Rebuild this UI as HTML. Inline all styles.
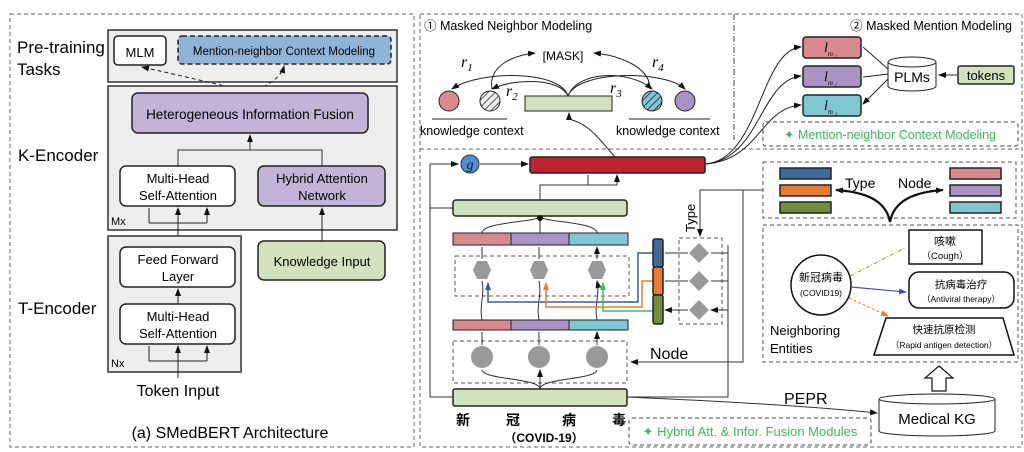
<!DOCTYPE html>
<html><head><meta charset="utf-8"><style>
html,body{margin:0;padding:0;background:#fff;}
svg{display:block;font-family:"Liberation Sans","Noto Sans CJK SC",sans-serif;}
</style></head><body>
<svg width="1024" height="452" viewBox="0 0 1024 452" xmlns="http://www.w3.org/2000/svg">
<defs>
<marker id="a" markerWidth="8" markerHeight="8" refX="7" refY="4" orient="auto" markerUnits="userSpaceOnUse"><path d="M0,1 L8,4 L0,7 z" fill="#111"/></marker>
<marker id="ab" markerWidth="8" markerHeight="8" refX="7" refY="4" orient="auto" markerUnits="userSpaceOnUse"><path d="M0,1 L8,4 L0,7 z" fill="#3a5a9a"/></marker>
<marker id="ao" markerWidth="8" markerHeight="8" refX="7" refY="4" orient="auto" markerUnits="userSpaceOnUse"><path d="M0,1 L8,4 L0,7 z" fill="#f07a30"/></marker>
<marker id="ag" markerWidth="8" markerHeight="8" refX="7" refY="4" orient="auto" markerUnits="userSpaceOnUse"><path d="M0,1 L8,4 L0,7 z" fill="#3cc060"/></marker>
<pattern id="h" width="5" height="5" patternUnits="userSpaceOnUse" patternTransform="rotate(45)"><rect width="5" height="5" fill="#eee"/><line x1="0" y1="0" x2="0" y2="5" stroke="#333" stroke-width="1.6"/></pattern>
<pattern id="ht" width="5" height="5" patternUnits="userSpaceOnUse" patternTransform="rotate(45)"><rect width="5" height="5" fill="#7fc7d3"/><line x1="0" y1="0" x2="0" y2="5" stroke="#223" stroke-width="1.6"/></pattern>
</defs>

<!-- LEFT PANEL -->
<rect x="10" y="14" width="404" height="433" fill="none" stroke="#666" stroke-dasharray="4,3"/>
<rect x="108" y="30" width="289" height="52" fill="#eee" stroke="#333" stroke-width="1.5"/>
<rect x="114" y="36" width="52" height="29" rx="4" fill="#fff" stroke="#222" stroke-width="1.5"/>
<text x="140" y="57" font-size="13" text-anchor="middle">MLM</text>
<rect x="178" y="36" width="213" height="28" rx="4" fill="#8fb4d8" stroke="#222" stroke-width="1.5" stroke-dasharray="5,3"/>
<text x="284" y="55" font-size="11.5" text-anchor="middle">Mention-neighbor Context Modeling</text>
<path d="M250,92 Q200,80 142,67" fill="none" stroke="#222" stroke-dasharray="4,3" marker-end="url(#a)"/>
<path d="M250,92 Q280,82 284,66" fill="none" stroke="#222" stroke-dasharray="4,3" marker-end="url(#a)"/>
<text x="17" y="53" font-size="17">Pre-training</text>
<text x="17" y="75" font-size="17">Tasks</text>
<rect x="108" y="86" width="289" height="144" fill="#eee" stroke="#333" stroke-width="1.5"/>
<rect x="132" y="93" width="236" height="40" rx="6" fill="#c2b4d6" stroke="#222" stroke-width="1.5"/>
<text x="250" y="119" font-size="13.5" text-anchor="middle">Heterogeneous Information Fusion</text>
<path d="M178,166 V150 H322 V166 M250,150 V135" fill="none" stroke="#333" marker-end="url(#a)"/>
<rect x="120" y="166" width="115" height="40" rx="6" fill="#fff" stroke="#222" stroke-width="1.5"/>
<text x="178" y="183" font-size="13" text-anchor="middle">Multi-Head</text>
<text x="178" y="200" font-size="13" text-anchor="middle">Self-Attention</text>
<rect x="258" y="166" width="127" height="40" rx="6" fill="#c2b4d6" stroke="#222" stroke-width="1.5"/>
<text x="322" y="183" font-size="13" text-anchor="middle">Hybrid Attention</text>
<text x="322" y="200" font-size="13" text-anchor="middle">Network</text>
<text x="111" y="225" font-size="11">Mx</text>
<text x="18" y="161" font-size="17">K-Encoder</text>
<path d="M178,236 V208" stroke="#222" marker-end="url(#a)"/>
<path d="M149,223 H207 M149,223 V208 M207,223 V208" fill="none" stroke="#222"/>
<path d="M149,214 V208 M207,214 V208" stroke="#222" marker-end="url(#a)"/>
<path d="M322,241 V208" stroke="#222" marker-end="url(#a)"/>
<rect x="108" y="236" width="133" height="136" fill="#eee" stroke="#333" stroke-width="1.5"/>
<rect x="120" y="247" width="115" height="40" rx="6" fill="#fff" stroke="#222" stroke-width="1.5"/>
<text x="178" y="264" font-size="13" text-anchor="middle">Feed Forward</text>
<text x="178" y="281" font-size="13" text-anchor="middle">Layer</text>
<path d="M178,304 V289" stroke="#222" marker-end="url(#a)"/>
<rect x="120" y="304" width="115" height="40" rx="6" fill="#fff" stroke="#222" stroke-width="1.5"/>
<text x="178" y="321" font-size="13" text-anchor="middle">Multi-Head</text>
<text x="178" y="338" font-size="13" text-anchor="middle">Self-Attention</text>
<path d="M178,378 V346" stroke="#222" marker-end="url(#a)"/>
<path d="M149,361 H207 M149,361 V346 M207,361 V346" fill="none" stroke="#222"/>
<path d="M149,352 V346 M207,352 V346" stroke="#222" marker-end="url(#a)"/>
<text x="111" y="367" font-size="11">Nx</text>
<rect x="258" y="241" width="127" height="39" rx="6" fill="#d3e2bd" stroke="#222" stroke-width="1.5"/>
<text x="322" y="266" font-size="13" text-anchor="middle">Knowledge Input</text>
<text x="18" y="314" font-size="17">T-Encoder</text>
<text x="178" y="396" font-size="16" text-anchor="middle">Token Input</text>
<text x="230" y="438" font-size="16" text-anchor="middle">(a) SMedBERT Architecture</text>

<!-- RIGHT PANEL -->
<rect x="420" y="14" width="602" height="433" fill="none" stroke="#666" stroke-dasharray="4,3"/>
<line x1="420" y1="149" x2="1022" y2="149" stroke="#666" stroke-dasharray="4,3"/>
<line x1="734" y1="14" x2="734" y2="140" stroke="#444" stroke-dasharray="6,2,1,2"/>
<text x="424" y="30" font-size="12.5">① Masked Neighbor Modeling</text>
<text x="1012" y="30" font-size="12.5" text-anchor="end">② Masked Mention Modeling</text>
<text x="563" y="60" font-size="12" text-anchor="middle">[MASK]</text>
<path d="M568,96 C560,70 480,70 452,89" fill="none" stroke="#222" marker-end="url(#a)"/>
<path d="M568,96 C560,78 515,78 492,89" fill="none" stroke="#222" marker-end="url(#a)"/>
<path d="M568,96 C578,70 630,70 652,89" fill="none" stroke="#222" marker-end="url(#a)"/>
<path d="M568,96 C578,70 665,70 685,89" fill="none" stroke="#222" marker-end="url(#a)"/>
<path d="M492,89 C488,65 515,55 535,53" fill="none" stroke="#222" marker-end="url(#a)"/>
<path d="M650,89 C650,65 615,55 594,53" fill="none" stroke="#222" marker-end="url(#a)"/>
<text x="461" y="67" font-size="16" font-family="Liberation Serif" font-style="italic">r<tspan font-size="11" dy="4">1</tspan></text>
<text x="506" y="96" font-size="16" font-family="Liberation Serif" font-style="italic">r<tspan font-size="11" dy="4">2</tspan></text>
<text x="610" y="93" font-size="16" font-family="Liberation Serif" font-style="italic">r<tspan font-size="11" dy="4">3</tspan></text>
<text x="652" y="67" font-size="16" font-family="Liberation Serif" font-style="italic">r<tspan font-size="11" dy="4">4</tspan></text>
<circle cx="449" cy="101" r="10" fill="#d98a8f" stroke="#222"/>
<circle cx="490" cy="101" r="10" fill="url(#h)" stroke="#222"/>
<circle cx="652" cy="101" r="10" fill="url(#ht)" stroke="#222"/>
<circle cx="685" cy="101" r="10" fill="#a993c4" stroke="#222"/>
<rect x="525" y="96" width="87" height="15" fill="#d3e2bd" stroke="#222"/>
<line x1="432" y1="119" x2="507" y2="119" stroke="#222"/>
<line x1="629" y1="119" x2="710" y2="119" stroke="#222"/>
<text x="420" y="135" font-size="12.5">knowledge context</text>
<text x="616" y="135" font-size="12.5">knowledge context</text>
<path d="M615,157 C600,140 590,125 572,120 C569,118 569,116 569,113" fill="none" stroke="#222" marker-end="url(#a)"/>

<rect x="803" y="37" width="58" height="21" rx="3" fill="#d98a8f" stroke="#222" stroke-width="1.5"/>
<rect x="803" y="66" width="58" height="21" rx="3" fill="#a993c4" stroke="#222" stroke-width="1.5"/>
<rect x="803" y="95" width="58" height="21" rx="3" fill="#7fc7d3" stroke="#222" stroke-width="1.5"/>
<text x="824" y="52" font-size="14" font-family="Liberation Serif" font-style="italic">l<tspan font-size="7" dy="4">m ₁</tspan></text>
<text x="824" y="81" font-size="14" font-family="Liberation Serif" font-style="italic">l<tspan font-size="7" dy="4">m ₂</tspan></text>
<text x="824" y="110" font-size="14" font-family="Liberation Serif" font-style="italic">l<tspan font-size="7" dy="4">m ₃</tspan></text>
<path d="M705,164 C760,160 760,50 801,47" fill="none" stroke="#222" marker-end="url(#a)"/>
<path d="M705,164 C760,160 760,80 801,76" fill="none" stroke="#222" marker-end="url(#a)"/>
<path d="M705,164 C760,160 760,108 801,105" fill="none" stroke="#222" marker-end="url(#a)"/>
<path d="M889,70 L863,47 M889,74 L863,77 M889,78 L863,104" stroke="#222" marker-end="url(#a)"/>
<path d="M888,62 V86 A24,5 0 0 0 936,86 V62" fill="#fff" stroke="#222"/>
<ellipse cx="912" cy="62" rx="24" ry="5" fill="#fff" stroke="#222"/>
<text x="912" y="82" font-size="14" text-anchor="middle">PLMs</text>
<path d="M957,75 L939,75" stroke="#222" marker-end="url(#a)"/>
<rect x="958" y="66" width="56" height="18" rx="2" fill="#d3e2bd" stroke="#222" stroke-width="1.5"/>
<text x="986" y="80" font-size="13" text-anchor="middle">tokens</text>
<rect x="763" y="122" width="255" height="24" rx="3" fill="none" stroke="#444" stroke-dasharray="4,3"/>
<text x="890" y="139" font-size="12.5" fill="#3cba5a" text-anchor="middle">✦ Mention-neighbor Context Modeling</text>

<!-- bottom left network -->
<path d="M453,397 H430 V164 H458" fill="none" stroke="#333" marker-end="url(#a)"/>
<path d="M430,208 H453" stroke="#333"/>
<circle cx="470" cy="164" r="9" fill="#4f8fd6" stroke="#333"/>
<text x="470" y="169" font-size="14" font-family="Liberation Serif" font-style="italic" text-anchor="middle" fill="#111">g</text>
<path d="M480,164 H528" stroke="#333" marker-end="url(#a)"/>
<rect x="530" y="157" width="175" height="16" rx="2" fill="#bd2430" stroke="#222" stroke-width="1.5"/>
<path d="M540,200 V185 H617 V175 M588,185 V175" fill="none" stroke="#333"/>
<path d="M588,180 V175 M617,180 V175" stroke="#333" marker-end="url(#a)"/>
<rect x="453" y="200" width="174" height="16" rx="3" fill="#d3e2bd" stroke="#222" stroke-width="1.5"/>
<path d="M482,233 C482,222 536,222 540,217 M597,233 C597,222 544,222 540,217 M540,233 V218" fill="none" stroke="#333"/>
<circle cx="540" cy="218" r="3" fill="#111"/>
<rect x="453" y="233" width="58" height="12" fill="#d98a8f" stroke="#222"/>
<rect x="511" y="233" width="58" height="12" fill="#a993c4" stroke="#222"/>
<rect x="569" y="233" width="59" height="12" fill="#7fc7d3" stroke="#222"/>
<rect x="455" y="256" width="174" height="40" fill="none" stroke="#555" stroke-dasharray="4,3"/>
<g fill="#999">
<polygon points="473,270 477,261 487,261 491,270 487,279 477,279"/>
<polygon points="530,270 534,261 544,261 548,270 544,279 534,279"/>
<polygon points="588,270 592,261 602,261 606,270 602,279 592,279"/>
</g>
<path d="M482,259 V247 M539,259 V247 M597,259 V247" stroke="#333" marker-end="url(#a)"/>
<path d="M482,320 C479,305 485,295 482,281 M539,320 C536,305 542,295 539,281 M597,320 C594,305 600,295 597,281" fill="none" stroke="#333" marker-end="url(#a)"/>
<path d="M653,253 H638 V302 H488 V283" fill="none" stroke="#3a5a9a" stroke-width="1.5" marker-end="url(#ab)"/>
<path d="M653,281 H642 V307 H546 V283" fill="none" stroke="#f07a30" stroke-width="1.5" marker-end="url(#ao)"/>
<path d="M653,311 H603 V283" fill="none" stroke="#3cc060" stroke-width="1.5" marker-end="url(#ag)"/>
<rect x="653" y="239" width="10" height="28" rx="2" fill="#3d6b9e" stroke="#222" stroke-width="1.5"/>
<rect x="653" y="267" width="10" height="28" rx="2" fill="#ea7a2e" stroke="#222" stroke-width="1.5"/>
<rect x="653" y="295" width="10" height="29" rx="2" fill="#6f8e3e" stroke="#222" stroke-width="1.5"/>
<rect x="679" y="238" width="43" height="86" fill="none" stroke="#555" stroke-dasharray="4,3"/>
<g fill="#999">
<polygon points="699,243 709,253 699,263 689,253"/>
<polygon points="699,271 709,281 699,291 689,281"/>
<polygon points="699,300 709,310 699,320 689,310"/>
</g>
<path d="M688,253 H665 M688,281 H665 M688,310 H665" stroke="#333" marker-end="url(#a)"/>
<path d="M728,253 H711 M728,281 H711 M728,310 H711" stroke="#333" marker-end="url(#a)"/>
<path d="M728,245 V397 H627" fill="none" stroke="#333"/>
<path d="M763,190 H700 V236" fill="none" stroke="#333" marker-end="url(#a)"/>
<path d="M743,190 V362 H631" fill="none" stroke="#333" marker-end="url(#a)"/>
<text transform="translate(695,232) rotate(-90)" font-size="13">Type</text>
<rect x="453" y="320" width="58" height="10" fill="#d98a8f" stroke="#222"/>
<rect x="511" y="320" width="58" height="10" fill="#a993c4" stroke="#222"/>
<rect x="569" y="320" width="59" height="10" fill="#7fc7d3" stroke="#222"/>
<rect x="453" y="341" width="174" height="42" fill="none" stroke="#555" stroke-dasharray="4,3"/>
<circle cx="482" cy="357" r="11" fill="#999"/>
<circle cx="539" cy="357" r="11" fill="#999"/>
<circle cx="597" cy="357" r="11" fill="#999"/>
<path d="M482,345 V332 M539,345 V332 M597,345 V332" stroke="#333" marker-end="url(#a)"/>
<path d="M540,389 C540,378 484,380 482,370 M540,389 C540,378 595,380 597,370 M540,389 V370" fill="none" stroke="#333" marker-end="url(#a)"/>
<text x="650" y="359" font-size="16">Node</text>
<rect x="453" y="389" width="174" height="17" rx="2" fill="#d3e2bd" stroke="#222" stroke-width="1.5"/>
<g font-size="14" font-weight="bold" font-family="'Noto Sans CJK SC',sans-serif">
<text x="456" y="425">新</text><text x="506" y="425">冠</text><text x="562" y="425">病</text><text x="612" y="425">毒</text>
</g>
<text x="544" y="442" font-size="12" font-weight="bold" text-anchor="middle" font-family="'Liberation Sans','Noto Sans CJK SC',sans-serif">（COVID-19）</text>
<path d="M627,397 C740,402 830,408 877,413" fill="none" stroke="#333" marker-end="url(#a)"/>
<text x="784" y="404" font-size="16">PEPR</text>
<rect x="629" y="418" width="242" height="27" rx="3" fill="none" stroke="#444" stroke-dasharray="4,3"/>
<text x="750" y="436" font-size="13" fill="#3cba5a" text-anchor="middle">✦ Hybrid Att. &amp; Infor. Fusion Modules</text>

<!-- bottom right -->
<rect x="763" y="162" width="253" height="56" fill="none" stroke="#555" stroke-dasharray="4,3"/>
<rect x="780" y="168" width="51" height="11" fill="#3d6b9e" stroke="#222" stroke-width="1.5"/>
<rect x="780" y="185" width="51" height="11" fill="#ea7a2e" stroke="#222" stroke-width="1.5"/>
<rect x="780" y="202" width="51" height="11" fill="#6f8e3e" stroke="#222" stroke-width="1.5"/>
<rect x="950" y="168" width="51" height="11" fill="#d98a8f" stroke="#222" stroke-width="1.5"/>
<rect x="950" y="185" width="51" height="11" fill="#a993c4" stroke="#222" stroke-width="1.5"/>
<rect x="950" y="202" width="51" height="11" fill="#7fc7d3" stroke="#222" stroke-width="1.5"/>
<text x="845" y="188" font-size="14">Type</text>
<text x="898" y="188" font-size="14">Node</text>
<path d="M890,222 C886,200 865,192 836,190" fill="none" stroke="#111" stroke-width="2.2" marker-end="url(#a)"/>
<path d="M890,222 C894,200 915,192 943,190" fill="none" stroke="#111" stroke-width="2.2" marker-end="url(#a)"/>
<rect x="763" y="225" width="255" height="137" fill="none" stroke="#555" stroke-dasharray="4,3"/>
<circle cx="821" cy="285" r="30" fill="#fff" stroke="#111" stroke-width="1.5"/>
<text x="821" y="281" font-size="11" text-anchor="middle" font-family="'Noto Sans CJK SC',sans-serif">新冠病毒</text>
<text x="821" y="296" font-size="8.5" text-anchor="middle">(COVID19)</text>
<rect x="909" y="230" width="73" height="34" fill="#fff" stroke="#111" stroke-width="1.5"/>
<text x="945" y="245" font-size="11" text-anchor="middle" font-family="'Noto Sans CJK SC',sans-serif">咳嗽</text>
<text x="945" y="259" font-size="9.5" text-anchor="middle">（Cough）</text>
<rect x="909" y="272" width="105" height="36" rx="10" fill="#fff" stroke="#111" stroke-width="1.5"/>
<text x="961" y="288" font-size="10.5" text-anchor="middle" font-family="'Noto Sans CJK SC',sans-serif">抗病毒治疗</text>
<text x="961" y="302" font-size="8.5" text-anchor="middle">（Antiviral therapy）</text>
<polygon points="886,318 1003,318 1014,355 874,355" fill="#fff" stroke="#111" stroke-width="1.5"/>
<text x="944" y="333" font-size="10.5" text-anchor="middle" font-family="'Noto Sans CJK SC',sans-serif">快速抗原检测</text>
<text x="944" y="348" font-size="8.5" text-anchor="middle">（Rapid antigen detection）</text>
<path d="M850,276 L905,248" stroke="#8aa050" stroke-dasharray="4,2,1,2"/>
<path d="M851,287 L906,292" stroke="#3a5a9a" stroke-width="1.2" marker-end="url(#ab)"/>
<path d="M849,298 L888,316" stroke="#f07a30" stroke-dasharray="3,2" marker-end="url(#ao)"/>
<text x="770" y="335" font-size="13">Neighboring</text>
<text x="770" y="353" font-size="13">Entities</text>
<polygon points="939,366 953,378 946,378 946,391 932,391 932,378 925,378" fill="#fff" stroke="#111" stroke-width="1.2"/>
<path d="M879,399 V431 A58,5 0 0 0 995,431 V399" fill="#fff" stroke="#222"/>
<ellipse cx="937" cy="399" rx="58" ry="5" fill="#fff" stroke="#222"/>
<text x="937" y="424" font-size="15" text-anchor="middle">Medical KG</text>
</svg>
</body></html>
